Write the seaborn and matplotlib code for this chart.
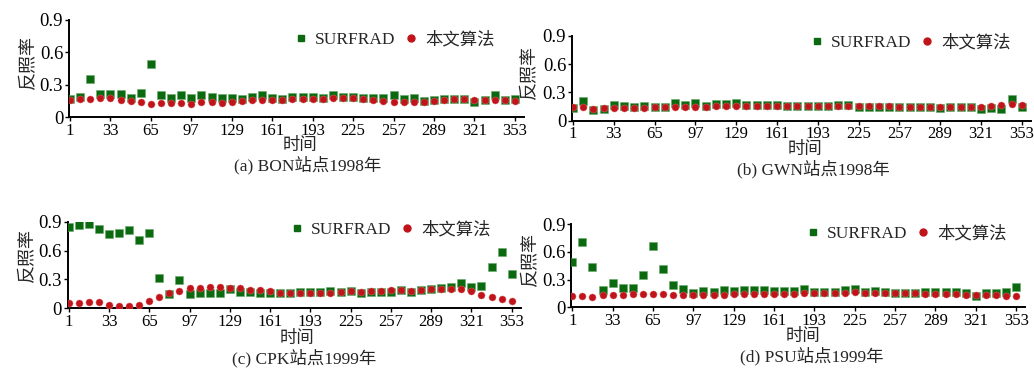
import pandas as pd
import matplotlib
matplotlib.use('Agg')
import matplotlib.pyplot as plt
import seaborn as sns
from matplotlib.lines import Line2D

sns.set_style('ticks')
plt.rcParams['font.family'] = ['Liberation Serif', 'Noto Sans CJK SC']
plt.rcParams['axes.unicode_minus'] = False

# composite days (8-day steps)
dias = [1, 9, 17, 25, 33, 41, 49, 57, 65, 73, 81, 89, 97, 105, 113, 121, 129, 137,
        145, 153, 161, 169, 177, 185, 193, 201, 209, 217, 225, 233, 241, 249, 257,
        265, 273, 281, 289, 297, 305, 313, 321, 329, 337, 345, 353]
ticks_x = [1, 33, 65, 97, 129, 161, 193, 225, 257, 289, 321, 353]

# (a) BON 1998
surf_a = [0.17, 0.19, 0.35, 0.21, 0.21, 0.21, 0.18, 0.22, 0.49, 0.20, 0.18, 0.20, 0.18,
          0.20, 0.19, 0.18, 0.18, 0.17, 0.19, 0.20, 0.18, 0.17, 0.19, 0.19, 0.19, 0.18,
          0.20, 0.19, 0.19, 0.18, 0.18, 0.18, 0.20, 0.17, 0.18, 0.15, 0.16, 0.17, 0.17,
          0.17, 0.14, 0.16, 0.20, 0.16, 0.17]
alg_a = [0.16, 0.17, 0.17, 0.18, 0.18, 0.16, 0.15, 0.14, 0.12, 0.13, 0.13, 0.13, 0.12,
         0.14, 0.14, 0.13, 0.14, 0.15, 0.16, 0.16, 0.16, 0.16, 0.17, 0.17, 0.17, 0.17,
         0.18, 0.18, 0.18, 0.17, 0.16, 0.15, 0.14, 0.14, 0.14, 0.14, 0.15, 0.16, 0.17,
         0.17, 0.16, 0.16, 0.16, 0.16, 0.15]

# (b) GWN 1998
surf_b = [0.13, 0.21, 0.11, 0.12, 0.17, 0.16, 0.15, 0.16, 0.15, 0.15, 0.19, 0.17, 0.19,
          0.16, 0.18, 0.18, 0.19, 0.17, 0.17, 0.17, 0.17, 0.16, 0.16, 0.16, 0.16, 0.16,
          0.17, 0.17, 0.15, 0.15, 0.15, 0.15, 0.14, 0.14, 0.14, 0.14, 0.13, 0.14, 0.14,
          0.14, 0.12, 0.13, 0.12, 0.23, 0.15]
alg_b = [0.14, 0.14, 0.12, 0.13, 0.13, 0.13, 0.13, 0.13, 0.14, 0.14, 0.14, 0.15, 0.15,
         0.15, 0.16, 0.16, 0.16, 0.16, 0.16, 0.16, 0.16, 0.16, 0.16, 0.16, 0.16, 0.16,
         0.16, 0.16, 0.16, 0.16, 0.16, 0.16, 0.15, 0.15, 0.15, 0.15, 0.14, 0.15, 0.15,
         0.15, 0.15, 0.16, 0.17, 0.18, 0.17]

# (c) CPK 1999
surf_c = [0.85, 0.87, 0.875, 0.82, 0.77, 0.78, 0.81, 0.71, 0.78, 0.32, 0.15, 0.29, 0.15,
          0.16, 0.16, 0.16, 0.20, 0.17, 0.17, 0.16, 0.16, 0.16, 0.16, 0.17, 0.17, 0.17,
          0.18, 0.17, 0.18, 0.16, 0.17, 0.17, 0.17, 0.19, 0.17, 0.19, 0.20, 0.21, 0.22,
          0.26, 0.225, 0.23, 0.425, 0.59, 0.36]
alg_c = [0.06, 0.06, 0.07, 0.065, 0.035, 0.025, 0.025, 0.035, 0.08, 0.115, 0.16, 0.18,
         0.21, 0.21, 0.22, 0.22, 0.215, 0.21, 0.19, 0.185, 0.18, 0.16, 0.16, 0.16, 0.16,
         0.16, 0.16, 0.17, 0.18, 0.17, 0.18, 0.18, 0.19, 0.19, 0.18, 0.19, 0.20, 0.20,
         0.20, 0.20, 0.18, 0.14, 0.115, 0.095, 0.08]

# (d) PSU 1999
surf_d = [0.49, 0.71, 0.44, 0.19, 0.26, 0.21, 0.21, 0.355, 0.67, 0.41, 0.24, 0.20, 0.155,
          0.18, 0.165, 0.19, 0.18, 0.19, 0.19, 0.19, 0.18, 0.18, 0.18, 0.20, 0.17, 0.165,
          0.17, 0.19, 0.20, 0.17, 0.18, 0.17, 0.15, 0.15, 0.15, 0.165, 0.17, 0.165, 0.17,
          0.15, 0.125, 0.15, 0.15, 0.165, 0.215]
alg_d = [0.125, 0.125, 0.117, 0.135, 0.135, 0.13, 0.145, 0.145, 0.145, 0.145, 0.13, 0.135,
         0.135, 0.13, 0.13, 0.13, 0.145, 0.145, 0.145, 0.145, 0.145, 0.145, 0.145, 0.15,
         0.15, 0.15, 0.15, 0.15, 0.165, 0.15, 0.15, 0.15, 0.15, 0.15, 0.15, 0.145, 0.145,
         0.145, 0.145, 0.135, 0.135, 0.135, 0.135, 0.125, 0.125]

paneles = [
    ('(a) BON站点1998年', surf_a, alg_a),
    ('(b) GWN站点1998年', surf_b, alg_b),
    ('(c) CPK站点1999年', surf_c, alg_c),
    ('(d) PSU站点1999年', surf_d, alg_d),
]

# axes rectangles and text positions (pixels, y from top)
W, H = 1034, 373
rects = [(68.7, 117, 455, 97), (571.7, 120.7, 459, 85),
         (67.5, 308.3, 453, 86.6), (571.0, 307.3, 454, 83)]
ylab_pos = [(29, 62), (530, 72), (28, 255), (531, 259)]
xlab_pos = [(300, 146), (805, 150), (297, 339), (803, 337)]
cap_pos = [(308, 165), (813, 169), (304, 358), (812, 356)]
leg_pos = [(296, 40), (812, 43), (292, 230), (808, 234)]

verde = '#0b6a10'
rojo = '#c0141a'

fig = plt.figure(figsize=(W / 100, H / 100), dpi=100)

for i, (titulo, surf, alg) in enumerate(paneles):
    x0, yb, w, h = rects[i]
    ax = fig.add_axes([x0 / W, 1 - yb / H, w / W, h / H])
    df = pd.DataFrame({'dia': dias, 'SURFRAD': surf, '本文算法': alg})
    sns.scatterplot(data=df, x='dia', y='SURFRAD', marker='s', color=verde,
                    s=32, linewidth=0.4, edgecolor='#6aa86c', ax=ax, zorder=3)
    sns.scatterplot(data=df, x='dia', y='本文算法', marker='o', color=rojo,
                    s=26, linewidth=0.3, edgecolor='#e07070', ax=ax, zorder=4)
    ax.set_xlim(0, 360)
    ax.set_ylim(0, 0.9)
    ax.set_xticks(ticks_x)
    ax.set_xticklabels([str(t) for t in ticks_x], fontsize=12)
    ax.set_yticks([0, 0.3, 0.6, 0.9])
    ax.set_yticklabels(['0', '0.3', '0.6', '0.9'], fontsize=13.5)
    ax.tick_params(axis='both', length=3, width=1, pad=1, colors='black')
    ax.set_xlabel('')
    ax.set_ylabel('')
    sns.despine(ax=ax)
    for sp in ['left', 'bottom']:
        ax.spines[sp].set_linewidth(1.4)
        ax.spines[sp].set_color('black')
    ax.patch.set_alpha(0)

    handles = [Line2D([], [], marker='s', color=verde, linestyle='none', markersize=5),
               Line2D([], [], marker='o', color=rojo, linestyle='none', markersize=5)]
    lx, ly = leg_pos[i]
    fig.legend(handles, ['SURFRAD', '本文算法'], loc='center left',
               bbox_to_anchor=(lx / W, 1 - ly / H), ncol=2, frameon=False,
               fontsize=12.5, handlelength=0.6, handletextpad=0.5, columnspacing=0.6,
               borderpad=0, borderaxespad=0)

    tx, ty = ylab_pos[i]
    fig.text(tx / W, 1 - ty / H, '反照率', rotation=90, ha='center', va='center',
             fontsize=13)
    tx, ty = xlab_pos[i]
    fig.text(tx / W, 1 - ty / H, '时间', ha='center', va='center', fontsize=12.5)
    tx, ty = cap_pos[i]
    fig.text(tx / W, 1 - ty / H, titulo, ha='center', va='center', fontsize=12.5)

fig.savefig('out.png', dpi=100)
